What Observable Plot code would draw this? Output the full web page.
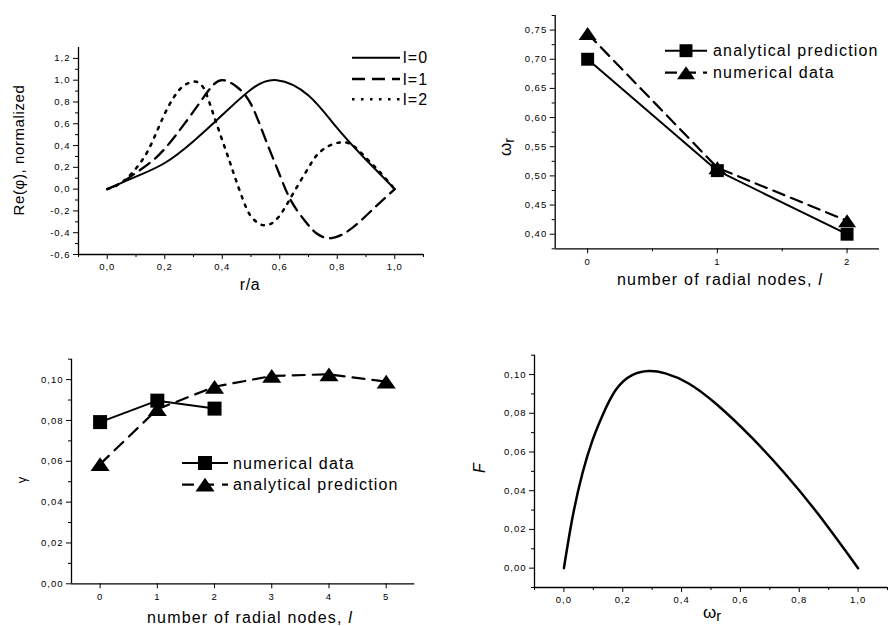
<!DOCTYPE html>
<html>
<head>
<meta charset="utf-8">
<script src="https://cdn.jsdelivr.net/npm/d3@7"></script>
<script src="https://cdn.jsdelivr.net/npm/@observablehq/plot@0.6"></script>
<style>
  html, body { margin: 0; padding: 0; background: #fff; }
  #wrap { position: relative; width: 888px; height: 626px; overflow: hidden; background: #fff; }
  .panel { position: absolute; }
  .panel svg { overflow: visible; }
  .panel svg text { letter-spacing: 1px; }
  #overlay { position: absolute; left: 0; top: 0; pointer-events: none; }
</style>
</head>
<body>
<div id="wrap"><svg id="overlay" width="888" height="626"></svg></div>
<script>
// ---------- Panel 1: Re(phi) vs r/a ----------
const l0R   = [0, 0.10, 0.20, 0.30, 0.40, 0.50, 0.59, 0.70, 0.80, 0.90, 1.0];
const l0Phi = [0, 0.115, 0.24, 0.44, 0.68, 0.915, 1.0, 0.86, 0.56, 0.27, 0];
const l1R   = [0, 0.05, 0.10, 0.17, 0.24, 0.31, 0.36, 0.40, 0.45, 0.50, 0.55, 0.60, 0.64, 0.69, 0.73, 0.78, 0.85, 0.93, 1.0];
const l1Phi = [0, 0.06, 0.15, 0.29, 0.50, 0.75, 0.93, 1.0, 0.94, 0.78, 0.46, 0.13, -0.11, -0.30, -0.41, -0.45, -0.36, -0.17, 0];
const l2R   = [0, 0.05, 0.10, 0.141, 0.176, 0.211, 0.25, 0.28, 0.31, 0.335, 0.356, 0.396, 0.425, 0.448, 0.477, 0.50, 0.53, 0.555, 0.58, 0.611, 0.651, 0.703, 0.732, 0.773, 0.82, 0.86, 0.906, 0.947, 1.0];
const l2Phi = [0, 0.06, 0.19, 0.35, 0.55, 0.75, 0.91, 0.97, 0.985, 0.93, 0.79, 0.48, 0.26, 0.08, -0.13, -0.25, -0.32, -0.33, -0.30, -0.20, -0.02, 0.21, 0.32, 0.40, 0.43, 0.39, 0.27, 0.16, 0];
const p1XTicks = [0, 0.2, 0.4, 0.6, 0.8, 1.0];
const p1YTicks = [-0.6, -0.4, -0.2, 0, 0.2, 0.4, 0.6, 0.8, 1.0, 1.2];
const p1XMinor = [-0.1, 0.1, 0.3, 0.5, 0.7, 0.9, 1.1];
const p1YMinor = [-0.5, -0.3, -0.1, 0.1, 0.3, 0.5, 0.7, 0.9, 1.1];
const p1Labels = ["l=0", "l=1", "l=2"];

// ---------- Panel 2: omega_r vs radial nodes ----------
const p2Nodes = [0, 1, 2];
const omegaAnalytical = [0.700, 0.509, 0.400];
const omegaNumerical  = [0.744, 0.514, 0.423];
const p2XTicks = [0, 1, 2];
const p2YTicks = [0.40, 0.45, 0.50, 0.55, 0.60, 0.65, 0.70, 0.75];
const p2YMinor = [0.375, 0.425, 0.475, 0.525, 0.575, 0.625, 0.675, 0.725, 0.775];
const p2XMinor = [0.5, 1.5];
const p2Labels = ["analytical prediction", "numerical data"];

// ---------- Panel 3: gamma vs radial nodes ----------
const p3NodesNum = [0, 1, 2];
const gammaNumerical = [0.0792, 0.0897, 0.0858];
const p3NodesAna = [0, 1, 2, 3, 4, 5];
const gammaAnalytical = [0.0586, 0.0855, 0.0965, 0.1018, 0.1026, 0.0990];
const p3XTicks = [0, 1, 2, 3, 4, 5];
const p3YTicks = [0, 0.02, 0.04, 0.06, 0.08, 0.10];
const p3YMinor = [0.01, 0.03, 0.05, 0.07, 0.09, 0.11];
const p3Labels = ["numerical data", "analytical prediction"];

// ---------- Panel 4: F vs omega_r ----------
const omegaR = [0, 0.029, 0.063, 0.097, 0.13, 0.176, 0.232, 0.288, 0.345, 0.424, 0.52, 0.638, 0.751, 0.863, 1.0];
const Fval   = [0, 0.026, 0.049, 0.066, 0.0785, 0.092, 0.0997, 0.1018, 0.1006, 0.0954, 0.0845, 0.0675, 0.0489, 0.0282, 0];
const p4XTicks = [0, 0.2, 0.4, 0.6, 0.8, 1.0];
const p4YTicks = [0, 0.02, 0.04, 0.06, 0.08, 0.10];
const p4XMinor = [-0.1, 0.1, 0.3, 0.5, 0.7, 0.9, 1.1];
const p4YMinor = [-0.01, 0.01, 0.03, 0.05, 0.07, 0.09, 0.11];

// ---------- helpers ----------
const zip = (xs, ys) => xs.map((x, i) => ({x, y: ys[i]}));
const comma = (digits) => (d) => d.toFixed(digits).replace(".", ",");
const blank = () => "";
const FONT = "'Liberation Sans', Arial, Helvetica, sans-serif";

const wideTriangle = {
  draw(ctx, size) {
    const r = Math.sqrt(size / Math.PI);
    const w = 1.15 * r, h = 0.83 * r;
    ctx.moveTo(0, -h); ctx.lineTo(w, h); ctx.lineTo(-w, h); ctx.closePath();
  }
};

function axes(xDom, yDom, xT, yT, xM, yM, xf, yf) {
  return [
    Plot.ruleX([xDom[0]], {stroke: "black", strokeWidth: 1.3}),
    Plot.ruleY([yDom[0]], {stroke: "black", strokeWidth: 1.3}),
    Plot.axisX({ticks: xT, tickSize: 5, tickPadding: 4, tickFormat: xf, label: null, stroke: "black"}),
    Plot.axisY({ticks: yT, tickSize: 5, tickPadding: 3, tickFormat: yf, label: null, stroke: "black"}),
    Plot.axisX({ticks: xM, tickSize: 3, tickFormat: blank, label: null, stroke: "black"}),
    Plot.axisY({ticks: yM, tickSize: 3, tickFormat: blank, label: null, stroke: "black"})
  ];
}

function place(chart, left, top) {
  const d = document.createElement("div");
  d.className = "panel";
  d.style.left = left + "px";
  d.style.top = top + "px";
  d.appendChild(chart);
  document.getElementById("wrap").insertBefore(d, document.getElementById("overlay"));
}

const style = {fontFamily: FONT, fontSize: "9.5px", color: "black", background: "transparent", overflow: "visible"};

// Panel 1
const p1X = [-0.1, 1.1], p1Y = [-0.6, 1.3];
place(Plot.plot({
  width: 444, height: 300,
  marginLeft: 78, marginTop: 47, marginRight: 21, marginBottom: 46,
  style,
  x: {domain: p1X, label: null},
  y: {domain: p1Y, label: null},
  marks: [
    ...axes(p1X, p1Y, p1XTicks, p1YTicks, p1XMinor, p1YMinor, comma(1), comma(1)),
    Plot.line(zip(l2R, l2Phi), {x: "x", y: "y", curve: "natural", stroke: "black", strokeWidth: 2.5, strokeDasharray: "2.5,6.5"}),
    Plot.line(zip(l1R, l1Phi), {x: "x", y: "y", curve: "natural", stroke: "black", strokeWidth: 2.3, strokeDasharray: "12,7"}),
    Plot.line(zip(l0R, l0Phi), {x: "x", y: "y", curve: "natural", stroke: "black", strokeWidth: 2})
  ]
}), 0, 0);

// Panel 2
const p2X = [-0.25, 2.25], p2Y = [0.375, 0.775];
place(Plot.plot({
  width: 444, height: 300,
  marginLeft: 110.7, marginTop: 15, marginRight: 9, marginBottom: 51.7,
  style,
  x: {domain: p2X, label: null},
  y: {domain: p2Y, label: null},
  marks: [
    ...axes(p2X, p2Y, p2XTicks, p2YTicks, p2XMinor, p2YMinor, (d) => String(d), comma(2)),
    Plot.line(zip(p2Nodes, omegaNumerical), {x: "x", y: "y", stroke: "black", strokeWidth: 2.2, strokeDasharray: "12,7"}),
    Plot.line(zip(p2Nodes, omegaAnalytical), {x: "x", y: "y", stroke: "black", strokeWidth: 2}),
    Plot.dot(zip(p2Nodes, omegaNumerical), {x: "x", y: "y", symbol: wideTriangle, r: 7.8, fill: "black", stroke: "none"}),
    Plot.dot(zip(p2Nodes, omegaAnalytical), {x: "x", y: "y", symbol: "square", r: 7.3, fill: "black", stroke: "none"})
  ]
}), 444, 0);

// Panel 3
const p3X = [-0.5, 5.5], p3Y = [0, 0.11];
place(Plot.plot({
  width: 444, height: 313,
  marginLeft: 71, marginTop: 45.7, marginRight: 29.7, marginBottom: 42.7,
  style,
  x: {domain: p3X, label: null},
  y: {domain: p3Y, label: null},
  marks: [
    ...axes(p3X, p3Y, p3XTicks, p3YTicks, [], p3YMinor, (d) => String(d), comma(2)),
    Plot.line(zip(p3NodesAna, gammaAnalytical), {x: "x", y: "y", stroke: "black", strokeWidth: 2.2, strokeDasharray: "12,8"}),
    Plot.line(zip(p3NodesNum, gammaNumerical), {x: "x", y: "y", stroke: "black", strokeWidth: 2}),
    Plot.dot(zip(p3NodesAna, gammaAnalytical), {x: "x", y: "y", symbol: wideTriangle, r: 8.3, fill: "black", stroke: "none"}),
    Plot.dot(zip(p3NodesNum, gammaNumerical), {x: "x", y: "y", symbol: "square", r: 7.9, fill: "black", stroke: "none"})
  ]
}), 0, 313);

// Panel 4
const p4X = [-0.1, 1.1], p4Y = [-0.01, 0.11];
place(Plot.plot({
  width: 444, height: 313,
  marginLeft: 90, marginTop: 41.7, marginRight: 1, marginBottom: 39,
  style,
  x: {domain: p4X, label: null},
  y: {domain: p4Y, label: null},
  marks: [
    ...axes(p4X, p4Y, p4XTicks, p4YTicks, p4XMinor, p4YMinor, comma(1), comma(2)),
    Plot.line(zip(omegaR, Fval), {x: "x", y: "y", curve: "natural", stroke: "black", strokeWidth: 2.5})
  ]
}), 444, 313);

// ---------- overlay: axis titles and legends ----------
const ov = d3.select("#overlay");
function label(x, y, size, rotate, build) {
  const t = ov.append("text")
    .attr("transform", `translate(${x},${y})` + (rotate ? " rotate(-90)" : ""))
    .attr("text-anchor", "middle")
    .attr("dominant-baseline", "central")
    .attr("font-family", FONT)
    .attr("font-size", size)
    .attr("fill", "black");
  build(t);
  return t;
}
const omegaR_label = (t) => {
  t.append("tspan").text("ω");
  t.append("tspan").attr("dy", 4).attr("font-size", "0.85em").text("r");
};
const nodesLabel = (t) => {
  t.attr("letter-spacing", 1.2);
  t.append("tspan").text("number of radial nodes, ");
  t.append("tspan").attr("font-style", "italic").text("l");
};

label(18, 150, 15, true, (t) => t.attr("letter-spacing", 0.6).text("Re(φ), normalized"));
label(250, 284, 16, false, (t) => t.attr("letter-spacing", 0.6).text("r/a"));
label(505, 147, 17, true, omegaR_label);
label(720, 279, 16, false, nodesLabel);
label(21, 480, 13, true, (t) => t.text("γ"));
label(250, 617, 16, false, nodesLabel);
label(479, 468, 16, true, (t) => t.attr("font-style", "italic").text("F"));
label(712, 612, 17, false, omegaR_label);

function legendRow(x0, x1, y, dash, width, symbol, symR, text, tx, fontSize) {
  ov.append("line").attr("x1", x0).attr("x2", x1).attr("y1", y).attr("y2", y)
    .attr("stroke", "black").attr("stroke-width", width)
    .attr("stroke-dasharray", dash || null);
  if (symbol) {
    ov.append("path").attr("transform", `translate(${(x0 + x1) / 2},${y})`)
      .attr("d", d3.symbol(symbol, Math.PI * symR * symR)()).attr("fill", "black");
  }
  ov.append("text").attr("x", tx).attr("y", y).attr("dominant-baseline", "central")
    .attr("font-family", FONT).attr("font-size", fontSize).attr("letter-spacing", 1.2)
    .attr("fill", "black").text(text);
}
// Panel 1 legend
legendRow(352, 400, 57.7, null, 2, null, 0, p1Labels[0], 403, 16);
legendRow(352, 400, 79, "13,7", 2.3, null, 0, p1Labels[1], 403, 16);
legendRow(352, 400, 99.3, "2.5,6.5", 2.5, null, 0, p1Labels[2], 403, 16);
// Panel 2 legend
legendRow(665, 707, 50.7, null, 2, d3.symbolSquare, 7.3, p2Labels[0], 713, 16);
legendRow(665, 707, 72.7, "12,7", 2.2, wideTriangle, 7.8, p2Labels[1], 713, 16);
// Panel 3 legend
legendRow(182, 228, 463, null, 2, d3.symbolSquare, 7.9, p3Labels[0], 233, 16);
legendRow(182, 228, 484.7, "12,8", 2.2, wideTriangle, 8.3, p3Labels[1], 233, 16);
</script>
</body>
</html>
